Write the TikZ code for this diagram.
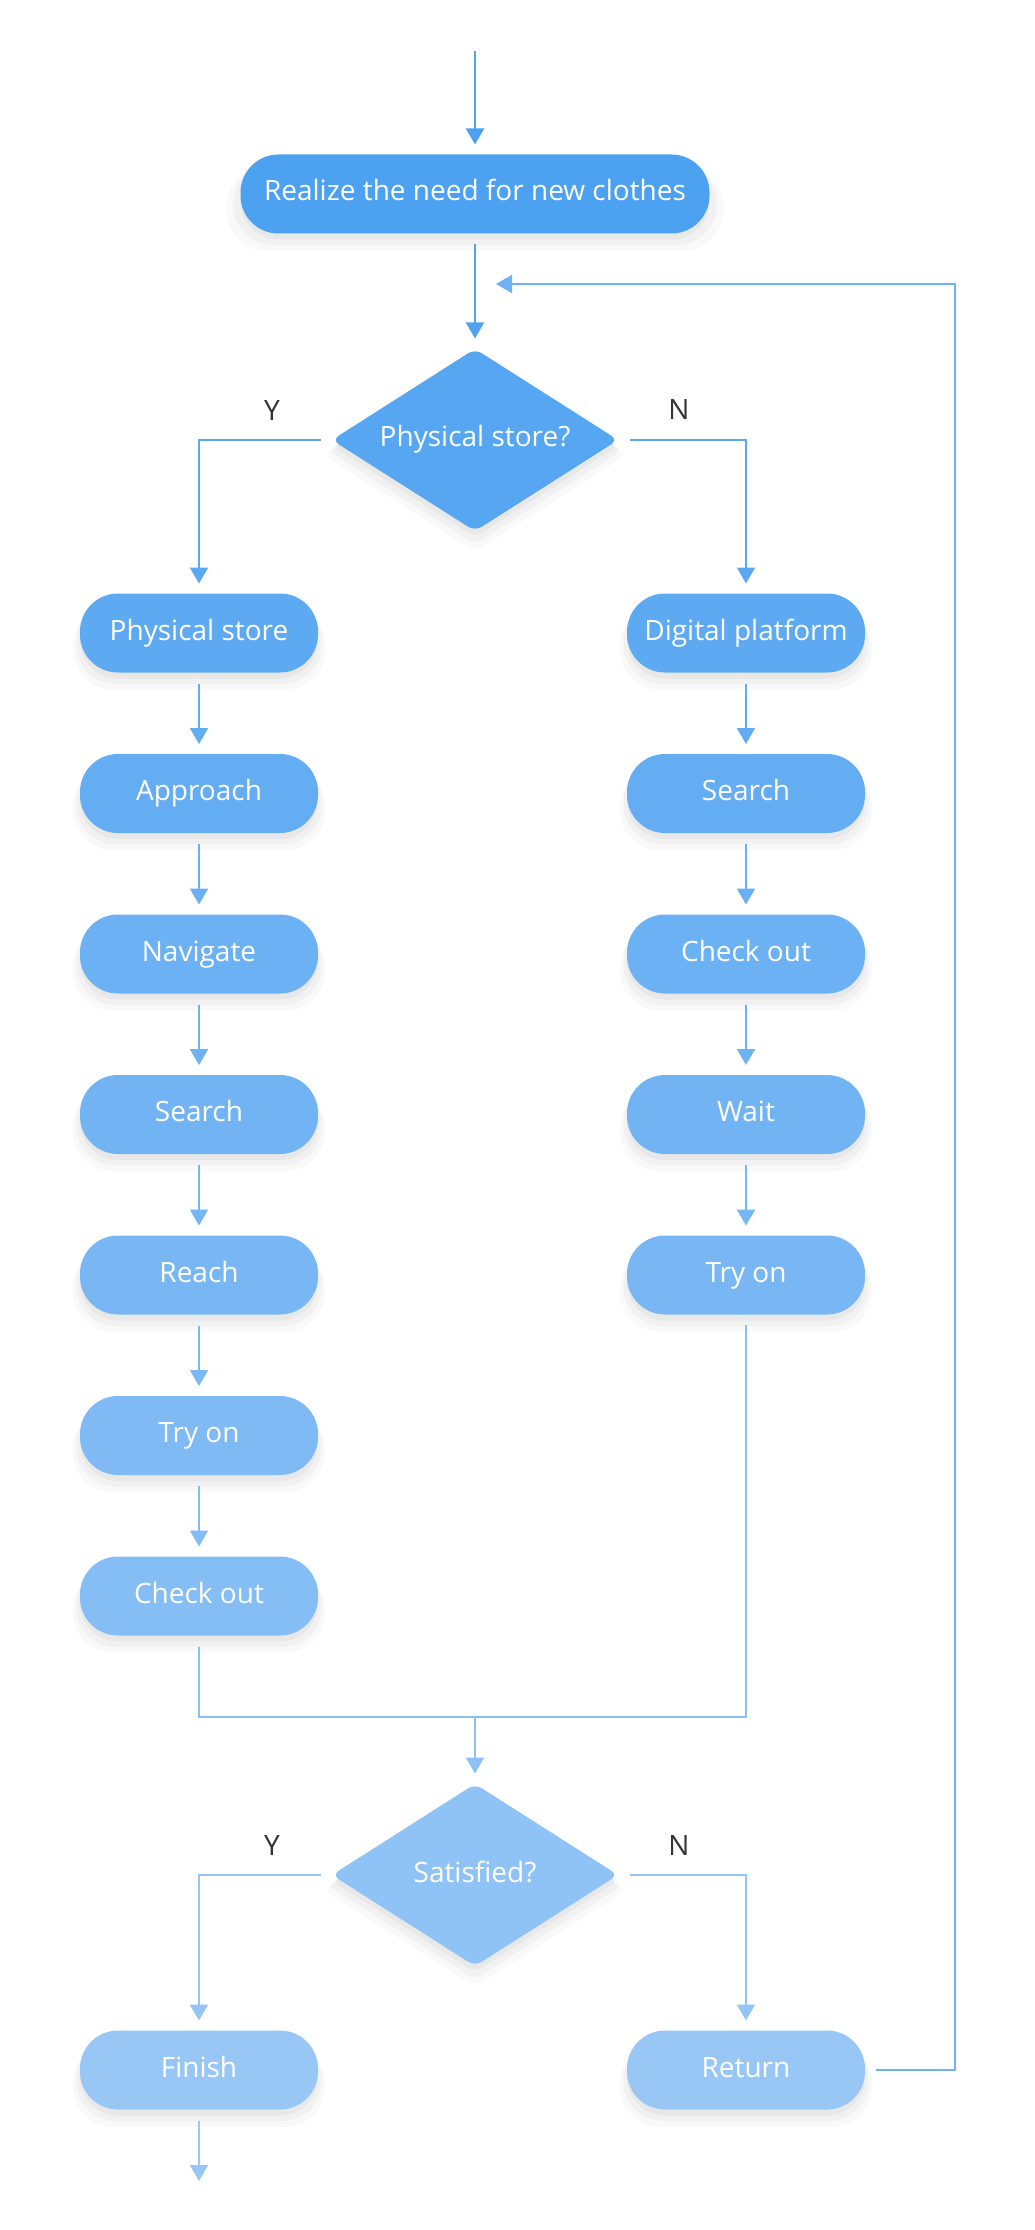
\documentclass[tikz,border=0pt]{standalone}
\usepackage{fontspec}
\setmainfont{Open Sans}
\usetikzlibrary{positioning,shapes.geometric,arrows.meta,shadows}
\definecolor{flowtop}{HTML}{4DA1F1}
\definecolor{flowbot}{HTML}{98C7F6}
\definecolor{labelgray}{HTML}{333333}

\begin{document}
\begin{tikzpicture}[x=0.5pt,y=-0.5pt,>={Triangle[width=9pt,length=8pt]},shorten >=4.5pt,shorten <=5pt,line width=1pt,node distance=80.25pt,
    soft/.style={general shadow={fill=black,opacity=0.025,shadow yshift=-7pt,shadow scale=1.06},
                 general shadow={fill=black,opacity=0.03,shadow yshift=-5pt,shadow scale=1.03},
                 general shadow={fill=black,opacity=0.035,shadow yshift=-3pt,shadow scale=1.0}},
    stage/.style={soft,rounded corners=19pt,minimum width=119pt,minimum height=39.5pt,inner sep=0pt,text height=10pt,text depth=3pt,fill=flowbot!#1!flowtop,text=white,font=\fontsize{14}{16}\selectfont},
    choice/.style={soft,diamond,aspect=1.57,minimum width=143.5pt,minimum height=91.5pt,inner sep=0pt,text height=10pt,text depth=3pt,rounded corners=4pt,fill=flowbot!#1!flowtop,text=white,font=\fontsize{14}{16}\selectfont},
    answer/.style={text=labelgray,font=\fontsize{14}{16}\selectfont},
    flow/.style={->,draw=flowbot!#1!flowtop},
    wire/.style={-,draw=flowbot!#1!flowtop}]

                    \useasboundingbox[fill=white] (0,0) rectangle (1034,2230);

                    \coordinate (0) at (475,51);
                    \node[stage=0,minimum width=234.5pt] (1) at (475,194) {Realize the need for new clothes};
                    \node[choice=13] (2) at (475,440) {Physical store?};

                    \node[stage=23] (3) at (199,633) {Physical store};
                    \node[stage=32] (4) [below of = 3] {Approach};
                    \node[stage=41] (5) [below of = 4] {Navigate};
                    \node[stage=49] (6) [below of = 5] {Search};
                    \node[stage=58] (7) [below of = 6] {Reach};
                    \node[stage=66] (8) [below of = 7] {Try on};
                    \node[stage=75] (9) [below of = 8] {Check out};

                    \node[stage=23] (10) at (746,633) {Digital platform};
                    \node[stage=32] (11) [below of = 10] {Search};
                    \node[stage=41] (12) [below of = 11] {Check out};
                    \node[stage=49] (13) [below of = 12] {Wait};
                    \node[stage=58] (14) [below of = 13] {Try on};

                    \coordinate (15) at (475,1717);
                    \node[choice=90] (16) at (475,1875) {Satisfied?};
                    \node[stage=100] (17) at (199,2070) {Finish};
                    \node[stage=100] (18) at (746,2070) {Return};
                    \coordinate (19) at (199,2190);
                    \coordinate (20) at (955,284);
                    \coordinate (21) at (487,284);

                    \node[answer] (y1) at (272,411) {Y};
                    \node[answer] (n1) at (679,410) {N};
                    \node[answer] (y2) at (272,1845) {Y};
                    \node[answer] (n2) at (679,1845) {N};

                    \draw[flow=0,shorten <=0pt] (0) to (1);
                    \draw[flow=6] (1) to (2);
                    \draw[flow=18] (2.west) -| (3);
                    \draw[flow=18] (2.east) -| (10);
                    \draw[flow=28] (3) to (4);
                    \draw[flow=37] (4) to (5);
                    \draw[flow=45] (5) to (6);
                    \draw[flow=54] (6) to (7);
                    \draw[flow=62] (7) to (8);
                    \draw[flow=70] (8) to (9);
                    \draw[flow=28] (10) to (11);
                    \draw[flow=37] (11) to (12);
                    \draw[flow=45] (12) to (13);
                    \draw[flow=54] (13) to (14);
                    \draw[wire=80] (9) |- (15) -| (14);
                    \draw[flow=85,shorten <=0pt] (15) to (16);
                    \draw[flow=95] (16.west) -| (17);
                    \draw[flow=95] (16.east) -| (18);
                    \draw[flow=100] (17) to (19);
                    \draw[flow=45] (18.east) -| (20) to (21);

                \end{tikzpicture}
\end{document}
